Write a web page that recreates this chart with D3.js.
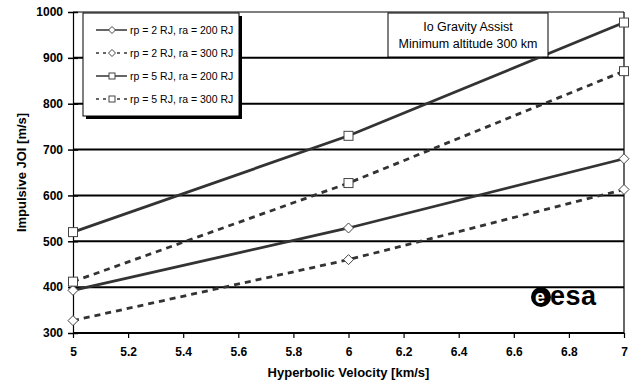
<!DOCTYPE html>
<html>
<head>
<meta charset="utf-8">
<script src="https://cdn.jsdelivr.net/npm/d3@7"></script>
<style>
  html, body { margin: 0; padding: 0; background: #fff; }
  svg { display: block; }
  text { font-family: "Liberation Sans", Arial, sans-serif; }
</style>
</head>
<body>
<svg id="chart" width="630" height="381"></svg>
<script>
// Hyperbolic arrival velocity [km/s]
const velocities = [5, 6, 7];

// Impulsive JOI [m/s] per capture orbit
const seriesNames = [
  "rp = 2 RJ, ra = 200 RJ",
  "rp = 2 RJ, ra = 300 RJ",
  "rp = 5 RJ, ra = 200 RJ",
  "rp = 5 RJ, ra = 300 RJ"
];
const rp2ra200 = [393, 529, 680];
const rp2ra300 = [327, 460, 613];
const rp5ra200 = [520, 730, 977];
const rp5ra300 = [412, 627, 871];

const xTicks = [5, 5.2, 5.4, 5.6, 5.8, 6, 6.2, 6.4, 6.6, 6.8, 7];
const yTicks = [300, 400, 500, 600, 700, 800, 900, 1000];

const titleLines = ["Io Gravity Assist", "Minimum altitude 300 km"];
const xTitle = "Hyperbolic Velocity [km/s]";
const yTitle = "Impulsive JOI [m/s]";

const series = [
  { name: seriesNames[0], values: rp2ra200, dashed: false, marker: "diamond" },
  { name: seriesNames[1], values: rp2ra300, dashed: true,  marker: "diamond" },
  { name: seriesNames[2], values: rp5ra200, dashed: false, marker: "square" },
  { name: seriesNames[3], values: rp5ra300, dashed: true,  marker: "square" }
];

const svg = d3.select("#chart");
const plotL = 73, plotR = 624, plotT = 12, plotB = 333;

const x = d3.scaleLinear().domain([5, 7]).range([plotL, plotR]);
const y = d3.scaleLinear().domain([300, 1000]).range([plotB, plotT]);

const lineColor = "#333";

// horizontal gridlines
svg.append("g").selectAll("line")
  .data(yTicks.filter(v => v > 300))
  .join("line")
  .attr("x1", plotL).attr("x2", plotR)
  .attr("y1", d => y(d)).attr("y2", d => y(d))
  .attr("stroke", "#000")
  .attr("stroke-width", d => d === 1000 ? 1.2 : 2);

// right border of the plot area
svg.append("line")
  .attr("x1", plotR).attr("x2", plotR).attr("y1", plotT).attr("y2", plotB)
  .attr("stroke", "#000").attr("stroke-width", 1.2);

// y axis
const yAxis = d3.axisLeft(y).tickValues(yTicks).tickSize(5).tickFormat(d3.format("d"));
const gy = svg.append("g").attr("transform", `translate(${plotL},0)`).call(yAxis);
gy.select(".domain").attr("stroke", "#000").attr("stroke-width", 1.2);
gy.selectAll(".tick line").attr("stroke", "#000").attr("stroke-width", 1.5).attr("x2", 5).attr("x1", -5);
gy.selectAll(".tick text").attr("x", -10).attr("font-size", 12).attr("font-weight", "bold")
  .attr("fill", "#000").attr("font-family", "Liberation Sans, Arial, sans-serif");

// x axis
const xAxis = d3.axisBottom(x).tickValues(xTicks).tickSize(5).tickFormat(d => d3.format("")(d));
const gx = svg.append("g").attr("transform", `translate(0,${plotB})`).call(xAxis);
gx.select(".domain").attr("stroke", "#000").attr("stroke-width", 2.2).attr("d", `M${plotL},0H${plotR}`);
gx.selectAll(".tick line").attr("stroke", "#000").attr("stroke-width", 1.2);
gx.selectAll(".tick text").attr("y", 14).attr("font-size", 12).attr("font-weight", "bold")
  .attr("fill", "#000").attr("font-family", "Liberation Sans, Arial, sans-serif");

// axis titles
svg.append("text")
  .attr("x", (plotL + plotR) / 2).attr("y", 377)
  .attr("text-anchor", "middle").attr("font-size", 13).attr("font-weight", "bold")
  .text(xTitle);
svg.append("text")
  .attr("transform", `translate(26,${(plotT + plotB) / 2}) rotate(-90)`)
  .attr("text-anchor", "middle").attr("font-size", 13).attr("font-weight", "bold")
  .text(yTitle);

// series lines
const line = d3.line().x((d, i) => x(velocities[i])).y(d => y(d));
const gSeries = svg.append("g");
series.forEach(s => {
  gSeries.append("path")
    .datum(s.values)
    .attr("d", line)
    .attr("fill", "none")
    .attr("stroke", lineColor)
    .attr("stroke-width", 2.8)
    .attr("stroke-dasharray", s.dashed ? "6,5" : null);
});

// markers
function drawMarker(g, type, cx, cy, size) {
  const h = size / 2;
  if (type === "square") {
    g.append("rect")
      .attr("x", cx - h).attr("y", cy - h).attr("width", size).attr("height", size)
      .attr("fill", "#fff").attr("stroke", "#444").attr("stroke-width", 1);
  } else {
    const r = h + 0.5;
    g.append("path")
      .attr("d", `M${cx},${cy - r}L${cx + r},${cy}L${cx},${cy + r}L${cx - r},${cy}Z`)
      .attr("fill", "#fff").attr("stroke", "#444").attr("stroke-width", 1);
  }
}
series.forEach(s => {
  s.values.forEach((v, i) => drawMarker(gSeries, s.marker, x(velocities[i]), y(v), 9));
});

// legend box with drop shadow
const lg = svg.append("g");
const lx = 83, ly = 13, lw = 156, lh = 103;
lg.append("rect").attr("x", lx + 3).attr("y", ly + 3).attr("width", lw).attr("height", lh).attr("fill", "#000");
lg.append("rect").attr("x", lx).attr("y", ly).attr("width", lw).attr("height", lh)
  .attr("fill", "#fff").attr("stroke", "#000").attr("stroke-width", 1);
series.forEach((s, i) => {
  const yy = ly + 17 + i * 23;
  lg.append("line")
    .attr("x1", lx + 13).attr("x2", lx + 44).attr("y1", yy).attr("y2", yy)
    .attr("stroke", lineColor).attr("stroke-width", 1.5)
    .attr("stroke-dasharray", s.dashed ? "3,4" : null);
  drawMarker(lg, s.marker, lx + 29, yy, 6);
  lg.append("text")
    .attr("x", lx + 47).attr("y", yy + 3.5)
    .attr("font-size", 10.5).attr("fill", "#000")
    .text(s.name);
});

// title box
const tg = svg.append("g");
const tx = 388, ty = 13, tw = 160, th = 44;
tg.append("rect").attr("x", tx).attr("y", ty).attr("width", tw).attr("height", th)
  .attr("fill", "#fff").attr("stroke", "#000").attr("stroke-width", 1);
titleLines.forEach((t, i) => {
  tg.append("text")
    .attr("x", tx + tw / 2).attr("y", ty + 18 + i * 17)
    .attr("text-anchor", "middle").attr("font-size", 12.5).attr("fill", "#000")
    .text(t);
});

// agency logo
const logo = svg.append("g");
logo.append("circle").attr("cx", 541).attr("cy", 297).attr("r", 10).attr("fill", "#000");
logo.append("text").attr("x", 535).attr("y", 303).attr("font-size", 18).attr("font-weight", "bold")
  .attr("fill", "#fff").text("e");
logo.append("text").attr("x", 550).attr("y", 305).attr("font-size", 27).attr("font-weight", "bold")
  .attr("fill", "#000").attr("letter-spacing", 0.5).text("esa");
</script>
</body>
</html>
